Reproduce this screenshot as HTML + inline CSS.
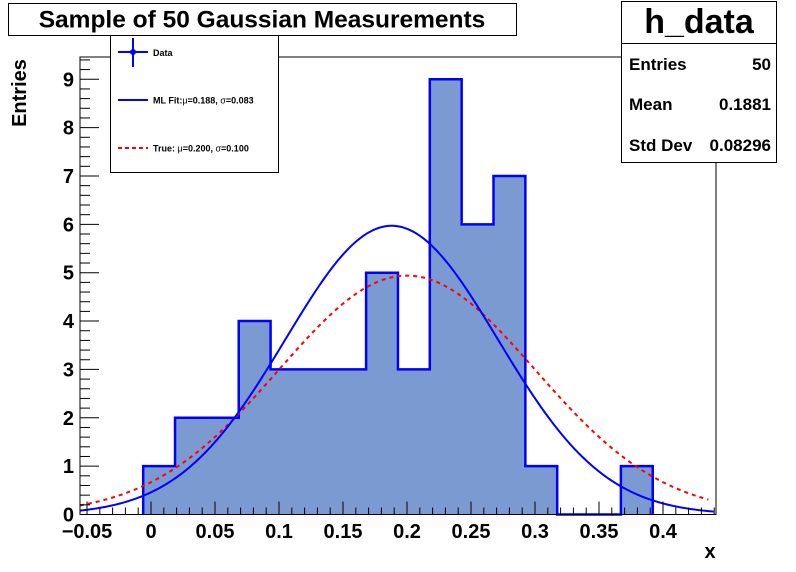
<!DOCTYPE html>
<html><head><meta charset="utf-8"><style>
html,body{margin:0;padding:0;background:#fff;}
svg{display:block;font-family:"Liberation Sans",Arial,sans-serif;}
</style></head><body>
<svg id="c" width="796" height="572" viewBox="0 0 796 572">
<rect x="0" y="0" width="796" height="572" fill="#fff"/>
<g id="plot"></g>
<g id="axes"></g>
<rect x="80" y="57" width="636" height="457.5" fill="none" stroke="#000" stroke-width="1"/>
<g>
<rect x="8.5" y="3.5" width="508" height="32" fill="#fff" stroke="#000"/>
<text x="262" y="27.5" text-anchor="middle" font-size="24.5" font-weight="bold">Sample of 50 Gaussian Measurements</text>
</g>
<g>
<rect x="110.5" y="35.5" width="168" height="137" fill="#fff" stroke="#000"/>
<g>
<line x1="118" y1="52" x2="148" y2="52" stroke="#0000ff" stroke-width="2"/>
<line x1="133" y1="38" x2="133" y2="67" stroke="#0000ff" stroke-width="2"/>
<circle cx="133" cy="52" r="3" fill="#0000ff"/>
<text x="153" y="56" font-size="9" font-weight="bold">Data</text>
</g>
<g>
<line x1="118" y1="100" x2="148" y2="100" stroke="#0000ff" stroke-width="2"/>
<text x="153" y="103.5" font-size="9" font-weight="bold">ML Fit:<tspan font-weight="normal">μ</tspan>=0.188, <tspan font-weight="normal">σ</tspan>=0.083</text>
</g>
<g>
<line x1="118" y1="148" x2="148" y2="148" stroke="#ff0000" stroke-width="2" stroke-dasharray="4,3"/>
<text x="153" y="151.5" font-size="9" font-weight="bold">True: <tspan font-weight="normal">μ</tspan>=0.200, <tspan font-weight="normal">σ</tspan>=0.100</text>
</g>
</g>
<g>
<rect x="621.5" y="1.5" width="155" height="161" fill="#fff" stroke="#000"/>
<line x1="621.5" y1="43.5" x2="776.5" y2="43.5" stroke="#000"/>
<text x="699" y="33" text-anchor="middle" font-size="34" font-weight="bold">h_data</text>
<text x="629" y="70" font-size="17" font-weight="bold">Entries</text>
<text x="771" y="70" font-size="17" font-weight="bold" text-anchor="end">50</text>
<text x="629" y="110" font-size="17" font-weight="bold">Mean</text>
<text x="771" y="110" font-size="17" font-weight="bold" text-anchor="end">0.1881</text>
<text x="629" y="151" font-size="17" font-weight="bold">Std Dev</text>
<text x="771" y="151" font-size="17" font-weight="bold" text-anchor="end">0.08296</text>
</g>
<text x="710" y="558" text-anchor="middle" font-size="20" font-weight="bold">x</text>
<text transform="translate(26,93) rotate(-90)" text-anchor="middle" font-size="20" font-weight="bold">Entries</text>
</svg>
<script>
const binStart = -0.0061;
const binWidth = 0.02488;
const counts = [1,2,2,4,3,3,3,5,3,9,6,7,1,0,0,1];
const xTicks = [-0.05,0,0.05,0.1,0.15,0.2,0.25,0.3,0.35,0.4];
const xTickLabels = ["\u22120.05","0","0.05","0.1","0.15","0.2","0.25","0.3","0.35","0.4"];
const yTicks = [0,1,2,3,4,5,6,7,8,9];
const fitMu = 0.188, fitSigma = 0.083, fitAmp = 5.97;
const trueMu = 0.200, trueSigma = 0.100, trueAmp = 4.94;

const NS="http://www.w3.org/2000/svg";
const X0=151, XS=1280, Y0=514.5, YS=48.36;
const xmin=(80-X0)/XS, xmax=(716-X0)/XS, ymax=(Y0-57)/YS;
function px(v){return X0+v*XS;}
function py(v){return Y0-v*YS;}
function mk(tag,attrs,parent){const e=document.createElementNS(NS,tag);for(const k in attrs)e.setAttribute(k,attrs[k]);parent.appendChild(e);return e;}
const plot=document.getElementById('plot'), axes=document.getElementById('axes');

// histogram step path (fill + outline)
let d='M'+px(binStart)+','+py(0);
counts.forEach((c,i)=>{
  const x1=px(binStart+i*binWidth), x2=px(binStart+(i+1)*binWidth);
  d+=' L'+x1+','+py(c)+' L'+x2+','+py(c);
});
d+=' L'+px(binStart+counts.length*binWidth)+','+py(0);
const hf=mk('path',{d:d+' Z',fill:'#7b9ad2',stroke:'none'},plot);


const ol=mk('path',{d:d,fill:'none',stroke:'#0000ff','stroke-width':2.5},plot);



function gauss(a,m,s,x){return a*Math.exp(-0.5*((x-m)/s)**2);}
function curve(a,m,s,x1,x2){
  let p='';const n=300;
  for(let k=0;k<=n;k++){const x=x1+(x2-x1)*k/n;p+=(k?' L':'M')+px(x).toFixed(2)+','+py(gauss(a,m,s,x)).toFixed(2);}
  return p;
}
const tc=mk('path',{d:curve(trueAmp,trueMu,trueSigma,xmin,0.4355),fill:'none',stroke:'#ff0000','stroke-width':2,'stroke-dasharray':'4,4'},plot);


const fc=mk('path',{d:curve(fitAmp,fitMu,fitSigma,xmin,0.4395),fill:'none',stroke:'#0000ff','stroke-width':2},plot);



// x ticks
for(let k=-5;k<=44;k++){
  const v=k*0.01; if(v<xmin||v>xmax) continue;
  const major=(k%5===0);
  mk('line',{x1:px(v),x2:px(v),y1:Y0,y2:Y0-(major?13:7),stroke:'#000','stroke-width':1},axes);
}
xTicks.forEach((v,i)=>{
  const t=mk('text',{x:px(v),y:538,'text-anchor':'middle','font-size':20,'font-weight':'bold'},axes);
  t.textContent=xTickLabels[i];
  
  
});
// y ticks
for(let k=0;k<=Math.floor(ymax*5);k++){
  const v=k*0.2; const major=(k%5===0);
  mk('line',{x1:80,x2:80+(major?19:10),y1:py(v),y2:py(v),stroke:'#000','stroke-width':1},axes);
}
yTicks.forEach(v=>{
  const t=mk('text',{x:74,y:py(v)+7,'text-anchor':'end','font-size':20,'font-weight':'bold'},axes);
  t.textContent=String(v);
  
  
});
</script>
</body></html>
